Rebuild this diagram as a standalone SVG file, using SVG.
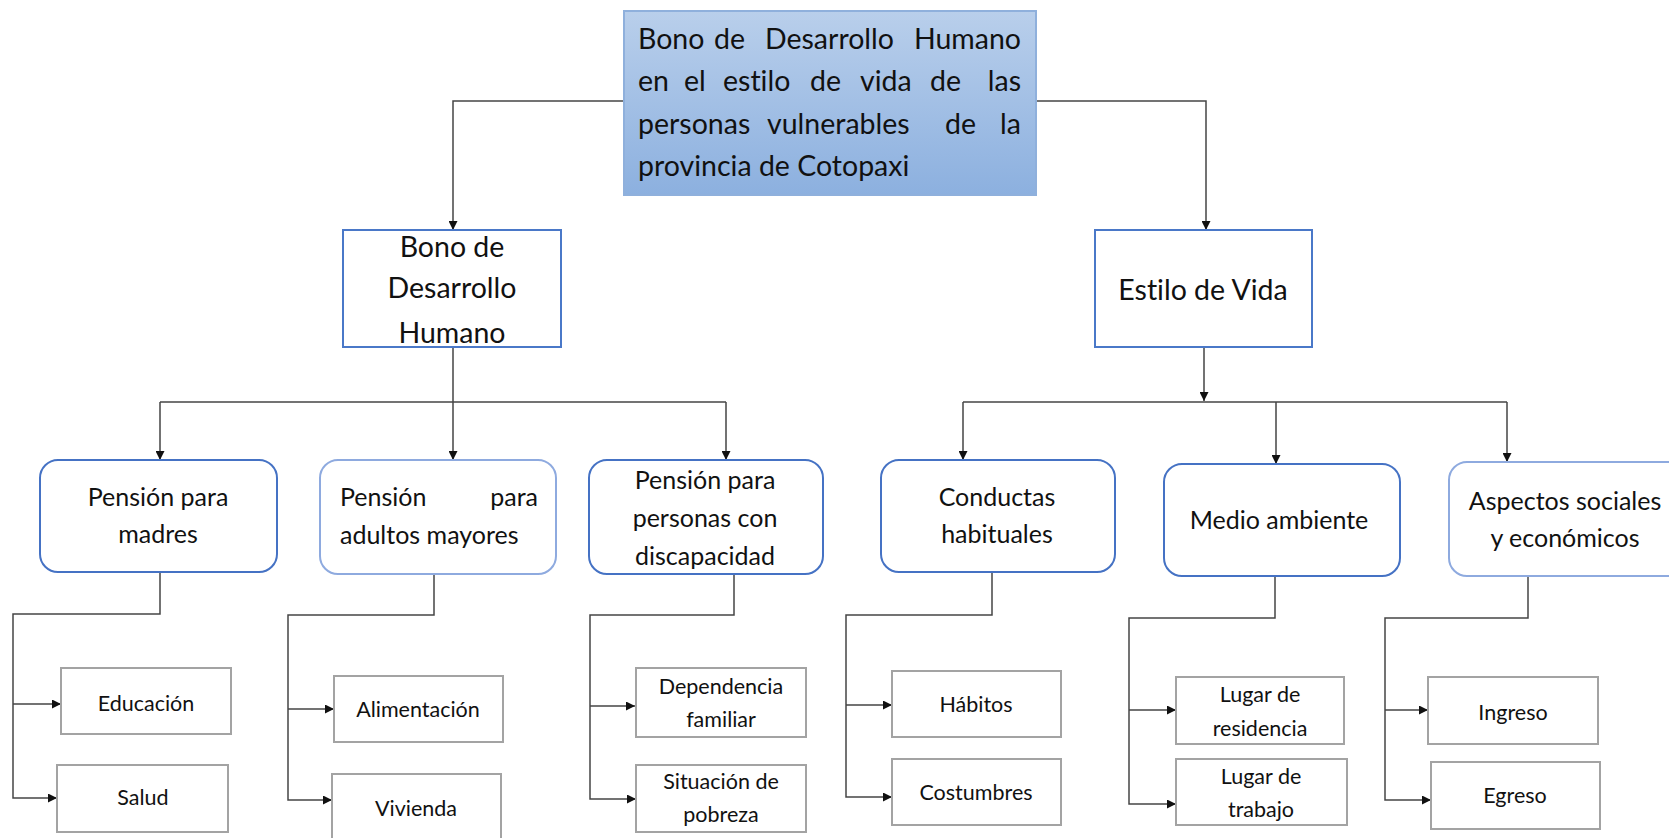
<svg xmlns="http://www.w3.org/2000/svg" width="1669" height="838" viewBox="0 0 1669 838">
<defs>
<linearGradient id="tg" x1="0" y1="0" x2="0" y2="1">
<stop offset="0" stop-color="#b9cfeb"/>
<stop offset="1" stop-color="#8cb0df"/>
</linearGradient>
<marker id="ar" viewBox="0 0 10 10" refX="10" refY="5" markerWidth="9" markerHeight="9" markerUnits="userSpaceOnUse" orient="auto">
<path d="M0,0 L10,5 L0,10 z" fill="#111"/>
</marker>
</defs>
<style>
text{font-family:Lato,"Liberation Sans",sans-serif;fill:#111;font-variant-ligatures:none}
.t{font-size:28.5px}
.m{font-size:28.5px;text-anchor:middle}
.l2{font-size:25px;text-anchor:middle}
.l2s{font-size:25px;text-anchor:start}
.l2e{font-size:25px;text-anchor:end}
.lf{font-size:21.5px;text-anchor:middle}
.sq{fill:#fff;stroke:#4a78c8;stroke-width:2}
.rb{fill:#fff;stroke:#4572c4;stroke-width:2}
.rbl{fill:#fff;stroke:#8eaadf;stroke-width:2}
.lb{fill:#fff;stroke:#a3a3a3;stroke-width:2}
.c{fill:none;stroke:#454545;stroke-width:1.5}
</style>
<rect width="1669" height="838" fill="#fff"/>
<g id="connectors">
<path class="c" d="M624,101 H453 V230" marker-end="url(#ar)"/>
<path class="c" d="M1036,101 H1206 V230" marker-end="url(#ar)"/>
<path class="c" d="M453,347 V460" marker-end="url(#ar)"/>
<path class="c" d="M160,402 H726"/>
<path class="c" d="M160,402 V460" marker-end="url(#ar)"/>
<path class="c" d="M726,402 V460" marker-end="url(#ar)"/>
<path class="c" d="M1204,347 V401" marker-end="url(#ar)"/>
<path class="c" d="M963,402 H1507"/>
<path class="c" d="M963,402 V460" marker-end="url(#ar)"/>
<path class="c" d="M1276,402 V464" marker-end="url(#ar)"/>
<path class="c" d="M1507,402 V462" marker-end="url(#ar)"/>
<path class="c" d="M160,572 V614 H13 V798 H57" marker-end="url(#ar)"/>
<path class="c" d="M13,704 H61" marker-end="url(#ar)"/>
<path class="c" d="M434,574 V615 H288 V800 H332" marker-end="url(#ar)"/>
<path class="c" d="M288,709 H334" marker-end="url(#ar)"/>
<path class="c" d="M734,574 V615 H590 V799 H636" marker-end="url(#ar)"/>
<path class="c" d="M590,706 H635" marker-end="url(#ar)"/>
<path class="c" d="M992,572 V615 H846 V797 H892" marker-end="url(#ar)"/>
<path class="c" d="M846,705 H892" marker-end="url(#ar)"/>
<path class="c" d="M1275,576 V618 H1129 V804 H1176" marker-end="url(#ar)"/>
<path class="c" d="M1129,710 H1176" marker-end="url(#ar)"/>
<path class="c" d="M1528,576 V618 H1385 V800 H1431" marker-end="url(#ar)"/>
<path class="c" d="M1385,710 H1428" marker-end="url(#ar)"/>
</g>
<g id="title">
<rect x="624" y="11" width="412" height="184" fill="url(#tg)" stroke="#8fb0dc" stroke-width="2"/>
<text class="t" x="638" y="49">Bono</text>
<text class="t" x="714" y="49">de</text>
<text class="t" x="765" y="49">Desarrollo</text>
<text class="t" x="1021" y="49" text-anchor="end">Humano</text>
<text class="t" x="638" y="91">en</text>
<text class="t" x="684" y="91">el</text>
<text class="t" x="723" y="91">estilo</text>
<text class="t" x="810" y="91">de</text>
<text class="t" x="860" y="91">vida</text>
<text class="t" x="930" y="91">de</text>
<text class="t" x="1021" y="91" text-anchor="end">las</text>
<text class="t" x="638" y="134">personas</text>
<text class="t" x="767" y="134">vulnerables</text>
<text class="t" x="945" y="134">de</text>
<text class="t" x="1021" y="134" text-anchor="end">la</text>
<text class="t" x="638" y="176">provincia de Cotopaxi</text>
</g>
<g id="bdh">
<rect class="sq" x="343" y="230" width="218" height="117"/>
<text class="m" x="452" y="257">Bono de</text>
<text class="m" x="452" y="298">Desarrollo</text>
<text class="m" x="452" y="343">Humano</text>
</g>
<g id="estilo">
<rect class="sq" x="1095" y="230" width="217" height="117"/>
<text class="m" x="1203" y="300">Estilo de Vida</text>
</g>
<g id="madres">
<rect class="rb" x="40" y="460" width="237" height="112" rx="18"/>
<text class="l2" x="158" y="506">Pensión para</text>
<text class="l2" x="158" y="543">madres</text>
</g>
<g id="adultos">
<rect class="rbl" x="320" y="460" width="236" height="114" rx="18"/>
<text class="l2s" x="340" y="506">Pensión</text>
<text class="l2e" x="538" y="506">para</text>
<text class="l2s" x="340" y="544">adultos mayores</text>
</g>
<g id="discapacidad">
<rect class="rb" x="589" y="460" width="234" height="114" rx="18"/>
<text class="l2" x="705" y="489">Pensión para</text>
<text class="l2" x="705" y="527">personas con</text>
<text class="l2" x="705" y="565">discapacidad</text>
</g>
<g id="conductas">
<rect class="rb" x="881" y="460" width="234" height="112" rx="18"/>
<text class="l2" x="997" y="506">Conductas</text>
<text class="l2" x="997" y="543">habituales</text>
</g>
<g id="medio">
<rect class="rb" x="1164" y="464" width="236" height="112" rx="18"/>
<text class="l2" x="1279" y="529">Medio ambiente</text>
</g>
<g id="aspectos">
<rect class="rbl" x="1449" y="462" width="240" height="114" rx="18"/>
<text class="l2" x="1565" y="510">Aspectos sociales</text>
<text class="l2" x="1565" y="547">y económicos</text>
</g>
<g id="educacion">
<rect class="lb" x="61" y="668" width="170" height="66"/>
<text class="lf" x="146" y="711">Educación</text>
</g>
<g id="salud">
<rect class="lb" x="57" y="765" width="171" height="67"/>
<text class="lf" x="143" y="805">Salud</text>
</g>
<g id="alimentacion">
<rect class="lb" x="334" y="676" width="169" height="66"/>
<text class="lf" x="418" y="717">Alimentación</text>
</g>
<g id="vivienda">
<rect class="lb" x="332" y="774" width="169" height="70"/>
<text class="lf" x="416" y="816">Vivienda</text>
</g>
<g id="dependencia">
<rect class="lb" x="636" y="668" width="170" height="69"/>
<text class="lf" x="721" y="694">Dependencia</text>
<text class="lf" x="721" y="727">familiar</text>
</g>
<g id="pobreza">
<rect class="lb" x="636" y="765" width="170" height="67"/>
<text class="lf" x="721" y="789">Situación de</text>
<text class="lf" x="721" y="822">pobreza</text>
</g>
<g id="habitos">
<rect class="lb" x="892" y="671" width="169" height="66"/>
<text class="lf" x="976" y="712">Hábitos</text>
</g>
<g id="costumbres">
<rect class="lb" x="892" y="759" width="169" height="66"/>
<text class="lf" x="976" y="800">Costumbres</text>
</g>
<g id="residencia">
<rect class="lb" x="1176" y="677" width="168" height="67"/>
<text class="lf" x="1260" y="702">Lugar de</text>
<text class="lf" x="1260" y="736">residencia</text>
</g>
<g id="trabajo">
<rect class="lb" x="1176" y="759" width="171" height="66"/>
<text class="lf" x="1261" y="784">Lugar de</text>
<text class="lf" x="1261" y="817">trabajo</text>
</g>
<g id="ingreso">
<rect class="lb" x="1428" y="677" width="170" height="67"/>
<text class="lf" x="1513" y="720">Ingreso</text>
</g>
<g id="egreso">
<rect class="lb" x="1431" y="762" width="169" height="67"/>
<text class="lf" x="1515" y="803">Egreso</text>
</g>
</svg>
